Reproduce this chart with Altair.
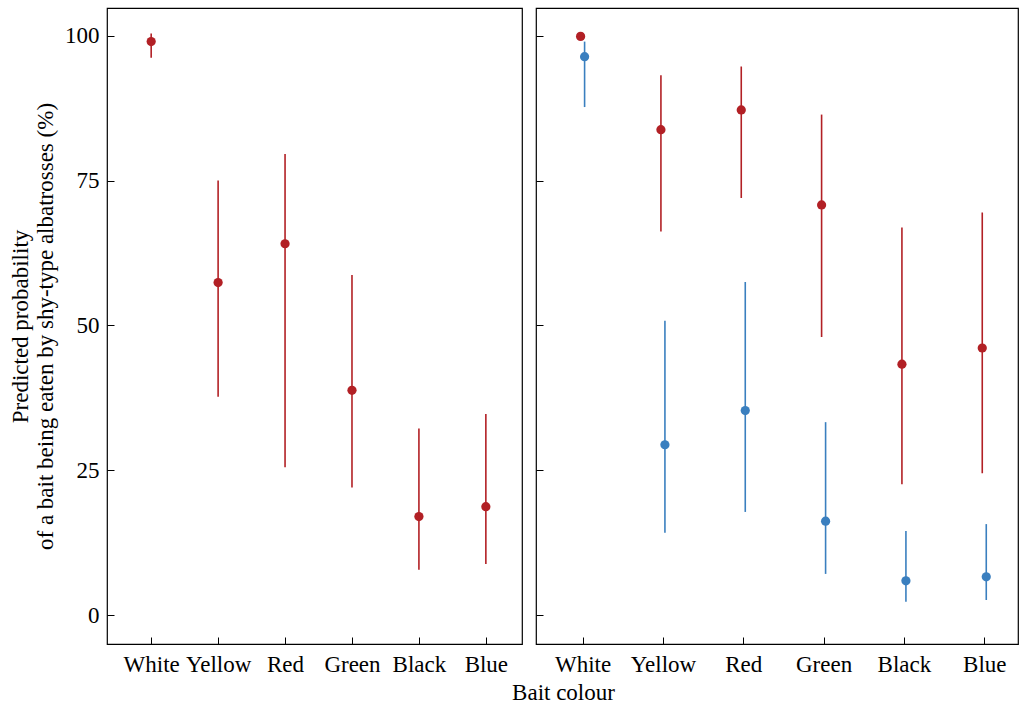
import altair as alt
import pandas as pd

colours = ["White", "Yellow", "Red", "Green", "Black", "Blue"]

# Left panel (single series)
left_est = [99.0, 57.4, 64.1, 38.8, 17.0, 18.7]
left_lo = [96.2, 37.7, 25.5, 22.0, 7.8, 8.8]
left_hi = [100.4, 75.0, 79.6, 58.7, 32.2, 34.7]

# Right panel, red series
red_est = [99.9, 83.8, 87.2, 70.8, 43.3, 46.1]
red_lo = [99.4, 66.2, 72.0, 48.0, 22.6, 24.5]
red_hi = [100.0, 93.2, 94.7, 86.4, 66.9, 69.5]

# Right panel, blue series
blue_est = [96.4, 29.4, 35.3, 16.2, 5.9, 6.6]
blue_lo = [87.7, 14.2, 17.8, 7.1, 2.3, 2.6]
blue_hi = [99.0, 50.8, 57.5, 33.3, 14.5, 15.7]

y_ticks = [0, 25, 50, 75, 100]

RED = "#B22025"
BLUE = "#3A7FBF"
FONT = "Liberation Serif"
FS = 23


def frame(est, lo, hi):
    return pd.DataFrame({"colour": colours, "est": est, "lo": lo, "hi": hi})


df_left = frame(left_est, left_lo, left_hi)
df_red = frame(red_est, red_lo, red_hi)
df_blue = frame(blue_est, blue_lo, blue_hi)

yscale = alt.Scale(domain=[-5, 104.8], nice=False, zero=False)


def x_enc(padding, align, show_title):
    axis_kwargs = dict(
        labelAngle=0, domain=False, tickSize=7, offset=-7, labelPadding=9,
        tickColor="black", labelColor="black", labelFont=FONT, labelFontSize=FS,
        titleFont=FONT, titleFontSize=FS, titleFontWeight="normal",
        titleColor="black",
    )
    scale = alt.Scale(type="point", padding=padding, align=align)
    if show_title:
        axis_kwargs.update(titleX=456, titlePadding=5)
        return alt.X("colour:N", sort=colours, scale=scale, title="Bait colour",
                     axis=alt.Axis(**axis_kwargs))
    return alt.X("colour:N", sort=colours, title=None, scale=scale,
                 axis=alt.Axis(**axis_kwargs))


def y_enc(field, show_labels):
    if show_labels:
        ax = alt.Axis(values=y_ticks, domain=False, tickSize=7, offset=-7,
                      labelPadding=8, grid=False, tickColor="black",
                      labelColor="black", labelFont=FONT, labelFontSize=FS,
                      titleFont=FONT, titleFontSize=FS, titleFontWeight="normal",
                      titleColor="black", titleLineHeight=25, titlePadding=7)
        return alt.Y(field, scale=yscale, axis=ax,
                     title=["Predicted probability",
                            "of a bait being eaten by shy-type albatrosses (%)"])
    ax = alt.Axis(values=y_ticks, domain=False, tickSize=7, offset=-7,
                  labels=False, grid=False, tickColor="black")
    return alt.Y(field, scale=yscale, axis=ax, title=None)


def series(df, color, dx, x, show_labels):
    rule = alt.Chart(df).mark_rule(color=color, strokeWidth=1.6, xOffset=dx).encode(
        x=x, y=y_enc("lo:Q", show_labels), y2="hi:Q")
    pt = alt.Chart(df).mark_circle(color=color, size=85, opacity=1, xOffset=dx).encode(
        x=x, y=y_enc("est:Q", show_labels))
    return [rule, pt]


xl = x_enc(0.6, 0.55, True)
left = alt.layer(*series(df_left, RED, 0, xl, True)).properties(width=415, height=636)

xr = x_enc(0.5, 0.58, False)
right = alt.layer(*series(df_red, RED, -2, xr, False),
                  *series(df_blue, BLUE, 2, xr, False)).properties(width=482, height=636)

chart = alt.hconcat(left, right, spacing=14, bounds="flush").properties(
    padding={"left": 8, "top": 7, "right": 1, "bottom": 5},
    background="white",
).configure_view(stroke="black", strokeWidth=1.2)

chart.save("out.html", embed_options={"renderer": "svg", "actions": False})
